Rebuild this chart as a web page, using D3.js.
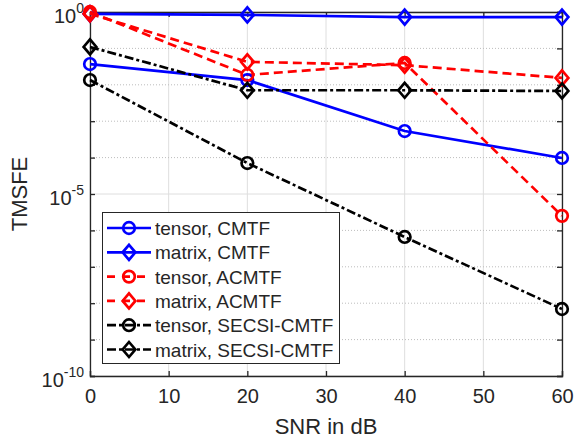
<!DOCTYPE html>
<html lang="en">
  <head>
    <meta charset="utf-8" />
    <title>TMSFE vs SNR</title>
    <script src="https://d3js.org/d3.v7.min.js"></script>
    <style type="text/css">
      body { margin: 0; background: #fff; }
      text { font-family: 'Liberation Sans', Arial, sans-serif; fill: #262626; }
    </style>
  </head>
  <body>
    <script type="text/javascript">
      // data (log10 of TMSFE)
      const snr = [0, 20, 40, 60];
      const tensorCMTF = [-1.43, -1.87, -3.27, -4.01];
      const matrixCMTF = [-0.05, -0.08, -0.14, -0.14];
      const tensorACMTF = [0.0, -1.73, -1.40, -5.6];
      const matrixACMTF = [-0.05, -1.37, -1.46, -1.81];
      const tensorSECSI = [-1.87, -4.15, -6.18, -8.16];
      const matrixSECSI = [-0.96, -2.15, -2.15, -2.17];
      const seriesNames = [
        'tensor, CMTF', 'matrix, CMTF', 'tensor, ACMTF',
        'matrix, ACMTF', 'tensor, SECSI-CMTF', 'matrix, SECSI-CMTF'
      ];
      const xTicks = [0, 10, 20, 30, 40, 50, 60];
      const yMajor = [-10, -5, 0];
      const yMinor = d3.range(-10, 1);

      const series = [
        { name: seriesNames[0], vals: tensorCMTF, color: '#0000ff', dash: null, marker: 'circle' },
        { name: seriesNames[1], vals: matrixCMTF, color: '#0000ff', dash: null, marker: 'diamond' },
        { name: seriesNames[2], vals: tensorACMTF, color: '#ff0000', dash: '9,5', marker: 'circle' },
        { name: seriesNames[3], vals: matrixACMTF, color: '#ff0000', dash: '9,5', marker: 'diamond' },
        { name: seriesNames[4], vals: tensorSECSI, color: '#000000', dash: '9,3,3,3', marker: 'circle' },
        { name: seriesNames[5], vals: matrixSECSI, color: '#000000', dash: '9,3,3,3', marker: 'diamond' }
      ];

      const w = 574;
      const h = 445;
      const pLeft = 90, pRight = 562, pTop = 12, pBottom = 376;
      const sw = 2.7;

      const xScale = d3.scaleLinear().domain([0, 60]).range([pLeft, pRight]);
      const yScale = d3.scaleLog().domain([1e-10, 1]).range([pBottom, pTop]);

      const svg = d3.select('body').append('svg').attr('width', w).attr('height', h);

      // grid
      svg.append('g')
        .selectAll('line')
        .data(xTicks)
        .enter()
        .append('line')
        .attr('x1', d => xScale(d)).attr('x2', d => xScale(d))
        .attr('y1', pTop).attr('y2', pBottom)
        .attr('stroke', '#dedede').attr('stroke-width', 1);

      svg.append('g')
        .selectAll('line')
        .data(yMinor.filter(d => yMajor.indexOf(d) < 0))
        .enter()
        .append('line')
        .attr('x1', pLeft).attr('x2', pRight)
        .attr('y1', d => yScale(Math.pow(10, d))).attr('y2', d => yScale(Math.pow(10, d)))
        .attr('stroke', '#bdbdbd').attr('stroke-width', 1).attr('stroke-dasharray', '1,2');

      svg.append('g')
        .selectAll('line')
        .data(yMajor)
        .enter()
        .append('line')
        .attr('x1', pLeft).attr('x2', pRight)
        .attr('y1', d => yScale(Math.pow(10, d))).attr('y2', d => yScale(Math.pow(10, d)))
        .attr('stroke', '#dedede').attr('stroke-width', 1);

      // axes
      const xAxis = d3.axisBottom(xScale).tickValues(xTicks).tickSize(-5).tickPadding(13);
      const gx = svg.append('g')
        .attr('transform', `translate(0, ${pBottom})`)
        .call(xAxis);
      gx.selectAll('text').style('font-size', '20px').attr('dy', '0.71em');

      const gxTop = svg.append('g')
        .attr('transform', `translate(0, ${pTop})`)
        .call(d3.axisTop(xScale).tickValues(xTicks).tickSize(-5).tickFormat(''));

      const yAxis = d3.axisLeft(yScale)
        .tickValues(yMinor.map(d => Math.pow(10, d)))
        .tickSize(-5)
        .tickFormat(() => '');
      const gy = svg.append('g').attr('transform', `translate(${pLeft},0)`).call(yAxis);
      const gyR = svg.append('g').attr('transform', `translate(${pRight},0)`)
        .call(d3.axisRight(yScale).tickValues(yMinor.map(d => Math.pow(10, d))).tickSize(-5).tickFormat(''));

      [gx, gxTop, gy, gyR].forEach(g => {
        g.select('.domain').attr('stroke', '#262626').attr('stroke-width', 1.3);
        g.selectAll('.tick line').attr('stroke', '#262626').attr('stroke-width', 1.3);
      });

      // y tick labels 10^n
      const yLab = svg.append('g').selectAll('text')
        .data(yMajor)
        .enter()
        .append('text')
        .attr('x', pLeft - 6)
        .attr('y', d => yScale(Math.pow(10, d)) + 11)
        .attr('text-anchor', 'end')
        .style('font-size', '20px');
      yLab.append('tspan').text('10');
      yLab.append('tspan').attr('dy', -10).style('font-size', '14px').text(d => d);

      // series
      const line = d3.line()
        .x((d, i) => xScale(snr[i]))
        .y(d => yScale(Math.pow(10, d)));

      const plot = svg.append('g');
      const diamond = r => `M0,${-r}L${r * 0.85},0L0,${r}L${-r * 0.85},0Z`;
      const circle = r => `M${r},0A${r},${r} 0 1,1 ${-r},0A${r},${r} 0 1,1 ${r},0Z`;

      series.forEach(s => {
        plot.append('path')
          .datum(s.vals)
          .attr('d', line)
          .attr('fill', 'none')
          .attr('stroke', s.color)
          .attr('stroke-width', sw)
          .attr('stroke-dasharray', s.dash);
      });
      series.forEach(s => {
        plot.append('g').selectAll('path')
          .data(s.vals)
          .enter()
          .append('path')
          .attr('transform', (d, i) => `translate(${xScale(snr[i])},${yScale(Math.pow(10, d))})`)
          .attr('d', s.marker === 'circle' ? circle(5.8) : diamond(7.5))
          .attr('fill', 'none')
          .attr('stroke', s.color)
          .attr('stroke-width', sw);
      });

      // legend
      const lg = svg.append('g');
      lg.append('rect')
        .attr('x', 102.5).attr('y', 212.5)
        .attr('width', 237).attr('height', 151)
        .attr('fill', '#fff').attr('stroke', '#262626').attr('stroke-width', 1);

      series.forEach((s, i) => {
        const y = 228 + i * 24.3;
        lg.append('line')
          .attr('x1', 107).attr('x2', 151)
          .attr('y1', y).attr('y2', y)
          .attr('stroke', s.color).attr('stroke-width', sw)
          .attr('stroke-dasharray', s.dash ? (s.dash === '9,5' ? '8,7' : '9,3,3,3') : null);
        lg.append('path')
          .attr('transform', `translate(129,${y})`)
          .attr('d', s.marker === 'circle' ? circle(5.8) : diamond(7.5))
          .attr('fill', 'none')
          .attr('stroke', s.color)
          .attr('stroke-width', sw);
        lg.append('text')
          .attr('x', 155).attr('y', y + 7)
          .style('font-size', '19px')
          .text(s.name);
      });

      // axis names
      svg.append('text')
        .attr('x', 326)
        .attr('y', 434)
        .attr('text-anchor', 'middle')
        .style('font-size', '22px')
        .text('SNR in dB');

      svg.append('text')
        .attr('transform', 'rotate(-90)')
        .attr('x', -194)
        .attr('y', 27)
        .attr('text-anchor', 'middle')
        .style('font-size', '22px')
        .text('TMSFE');
    </script>
  </body>
</html>
